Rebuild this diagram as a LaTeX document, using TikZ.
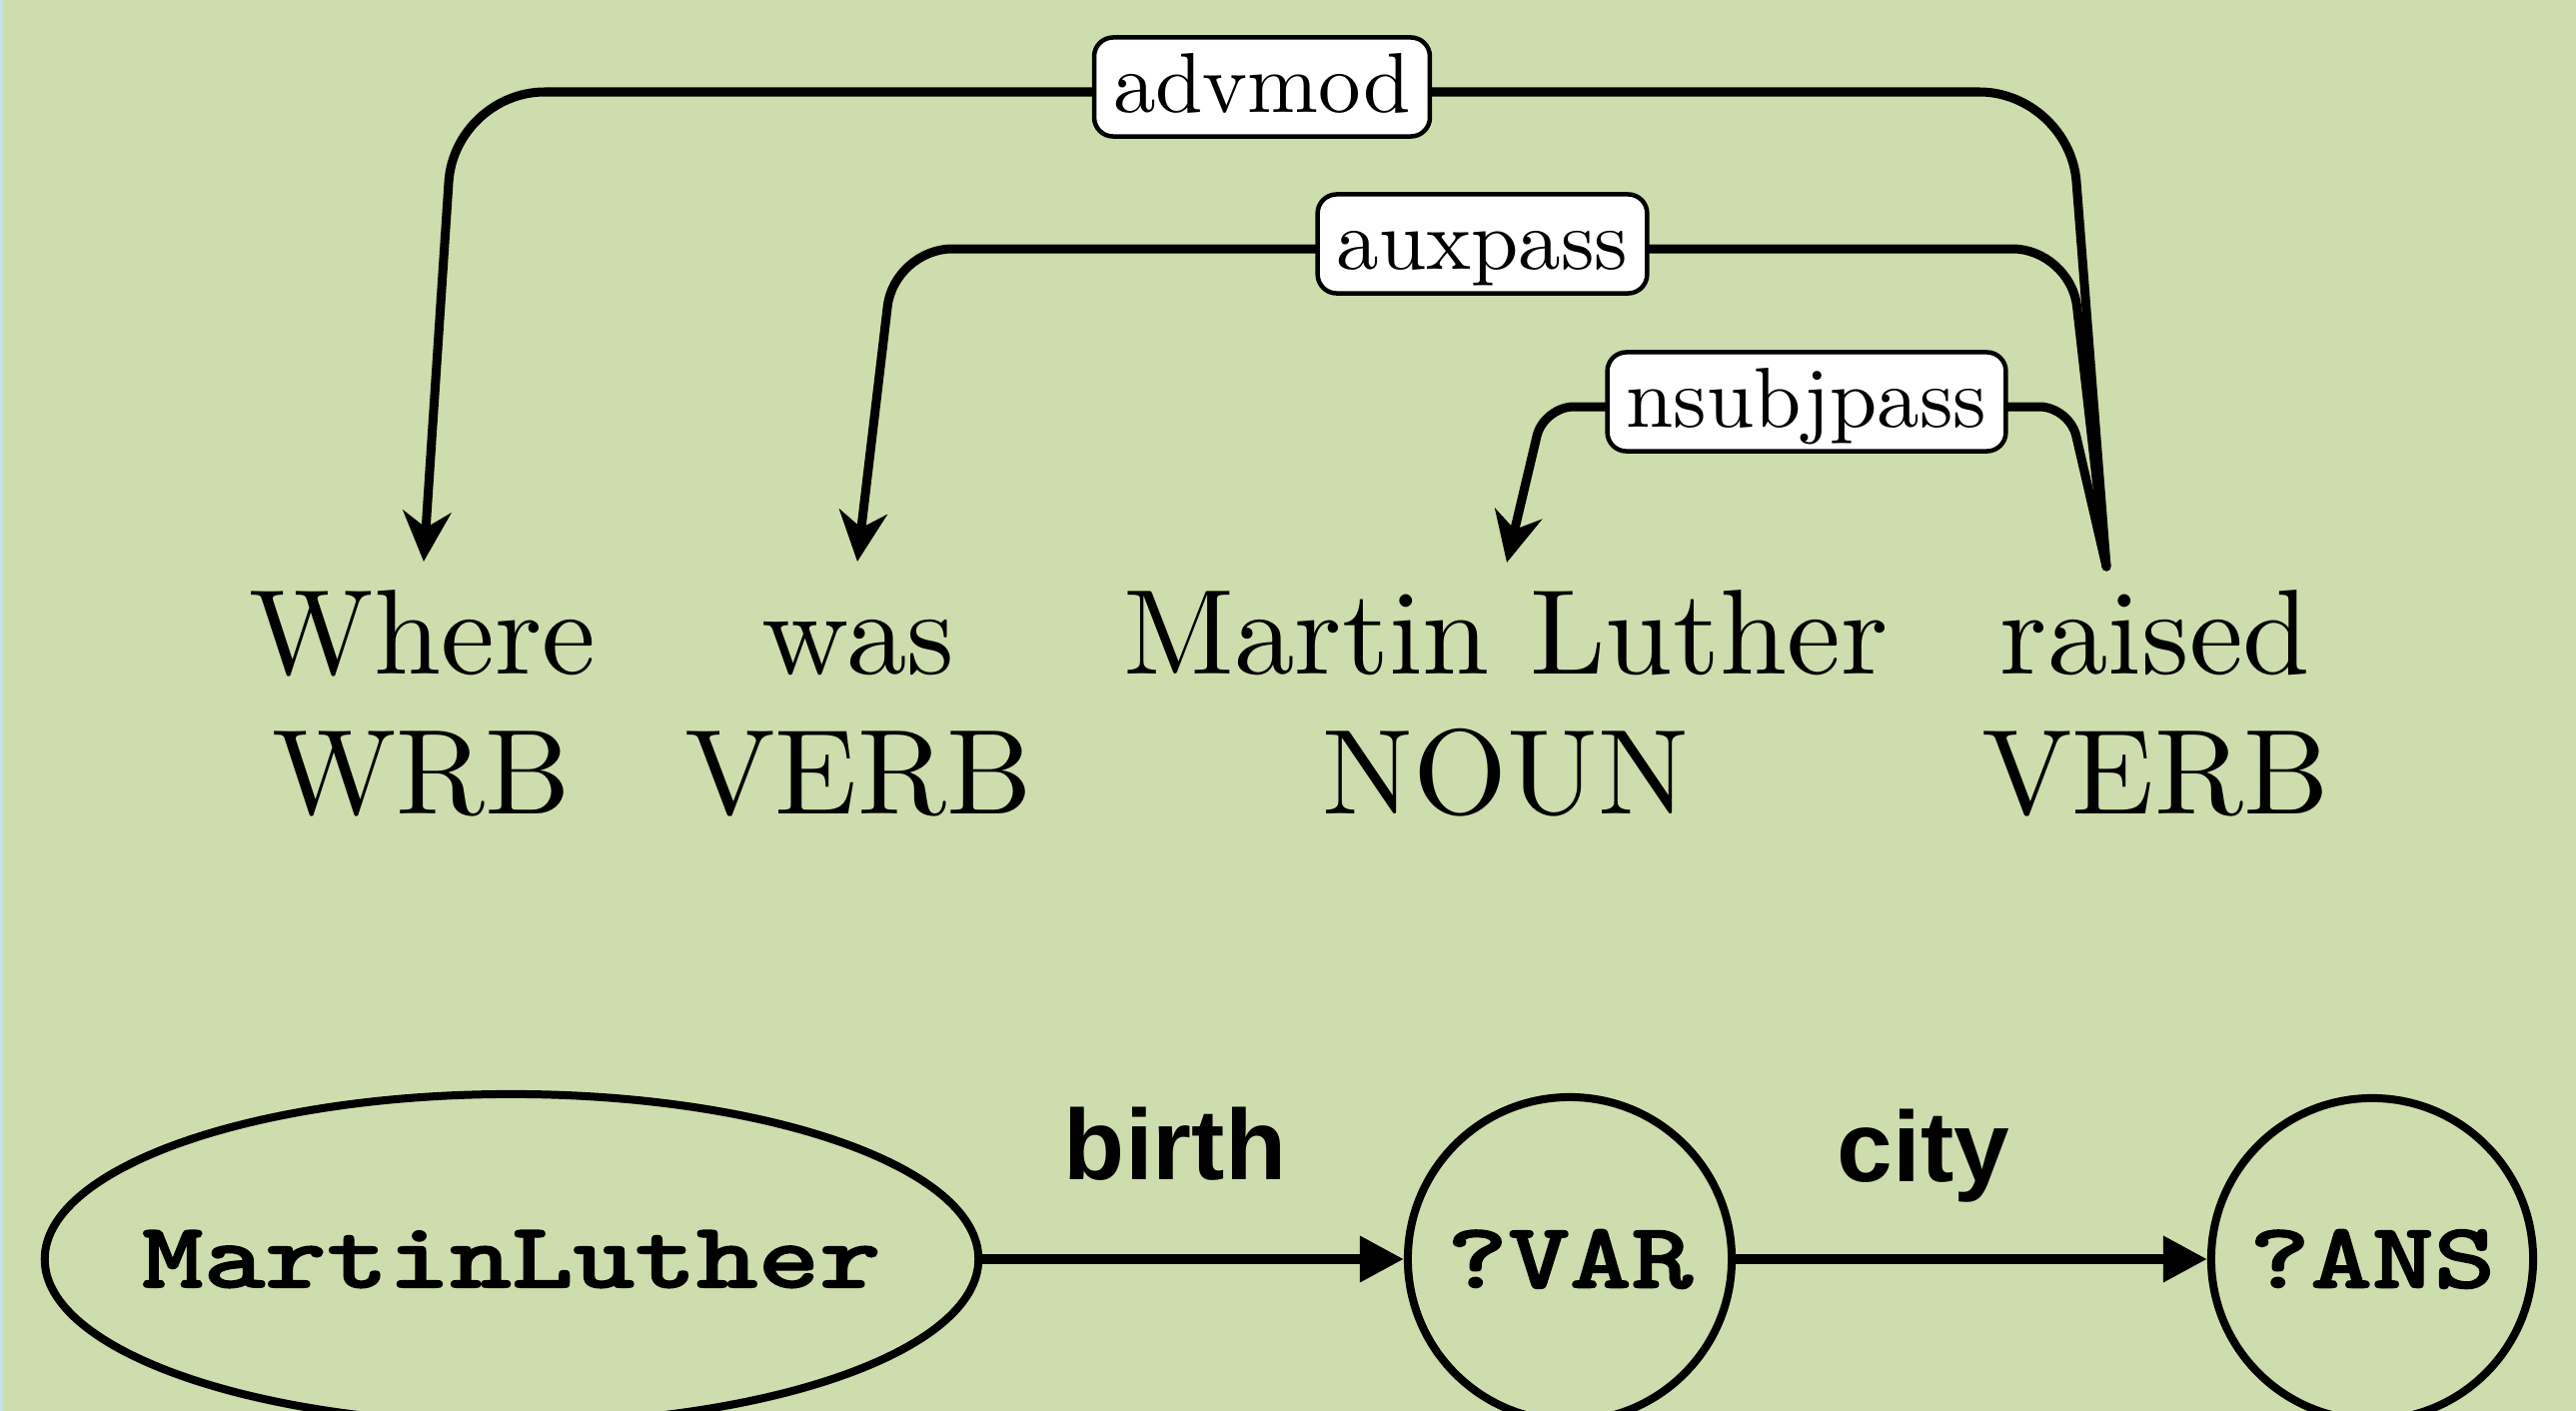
\documentclass[tikz,border=0pt]{standalone}
\usepackage{fontspec}
\usepackage{graphicx}
\newfontfamily\cmten{lmroman10-regular}[Extension=.otf]
\newfontfamily\ttbold{lmmonolt10-bold}[Extension=.otf,FakeBold=1.2]
\newfontfamily\hvsans{Liberation Sans}
\usetikzlibrary{arrows.meta,shapes.geometric}
\definecolor{bgc}{HTML}{CEDDAD}
\definecolor{stripc}{HTML}{C5E2E6}
\newcommand{\monotext}[2][0pt]{\makebox[0pt]{\scalebox{1}[0.8]{\ttbold\fontsize{33.4}{38}\selectfont #2}\hspace*{#1}}}
\begin{document}
\begin{tikzpicture}[x=0.01cm,y=-0.01cm,
  word/.style={font=\cmten\fontsize{34.4}{40}\selectfont, anchor=base, inner sep=0pt},
  rel/.style={draw, fill=white, line width=0.045cm, rounded corners=0.19cm,
    font=\cmten\fontsize{24.2}{28}\selectfont, inner xsep=0.19cm, inner ysep=0.05cm,
    text height=0.70cm, text depth=0.19cm, yshift=0.05cm},
  dep/.style={line width=0.09cm, line cap=round, -{Stealth[length=0.5cm,width=0.48cm,inset=0.16cm]}},
  ent/.style={draw, line width=0.08cm, inner sep=0pt},
  kb/.style={line width=0.1cm, -{Triangle[length=0.44cm,width=0.44cm]}},
  lbl/.style={font=\hvsans\bfseries\fontsize{28.45}{32}\selectfont, anchor=base, inner sep=0pt}
]
\useasboundingbox (0,0) rectangle (2578,1412);
\clip (0,0) rectangle (2578,1412);
\fill[bgc] (0,0) rectangle (2578,1412);
\fill[stripc] (0,0) rectangle (3,1412);

% words
\node[word] (w1) at (423,674) {Where};
\node[word] (w2) at (859,674) {was};
\node[word] (w3) at (1507,674) {Martin Luther};
\node[word] (w4) at (2157,674) {raised};
\node[word] (p1) at (422,814) {WRB};
\node[word] (p2) at (859,814) {VERB};
\node[word] (p3) at (1507,814) {NOUN};
\node[word] (p4) at (2157,814) {VERB};

% edge end points
\coordinate (sR) at (2108,567);
\coordinate (tW) at (424,562);
\coordinate (tV) at (858,562);
\coordinate (tM) at (1508,563);

\draw[dep, rounded corners=0.9cm] (sR) -- (2071,92) -- node[rel] (l1) {advmod} (455,92) -- (tW);
\draw[dep, rounded corners=0.58cm] (sR) -- (2072,249) -- node[rel] (l2) {auxpass} (895,249) -- (tV);
\draw[dep, rounded corners=0.3cm] (sR) -- (2071,407) -- node[rel] (l3) {nsubjpass} (1545,407) -- (tM);

% query graph
\node[ent, ellipse, minimum width=9.34cm, minimum height=3.30cm] (ml) at (512,1260) {\monotext{MartinLuther}};
\node[ent, circle, minimum size=3.24cm] (var) at (1571,1260) {\monotext{?VAR}};
\node[ent, circle, minimum size=3.22cm] (ans) at (2374,1260) {\monotext{?ANS}};
\draw[kb] (ml) -- (var);
\draw[kb] (var) -- (ans);
\node[lbl] (b1) at (1176,1180) {birth};
\node[lbl] (c1) at (1925,1182) {city};
\end{tikzpicture}
\end{document}
